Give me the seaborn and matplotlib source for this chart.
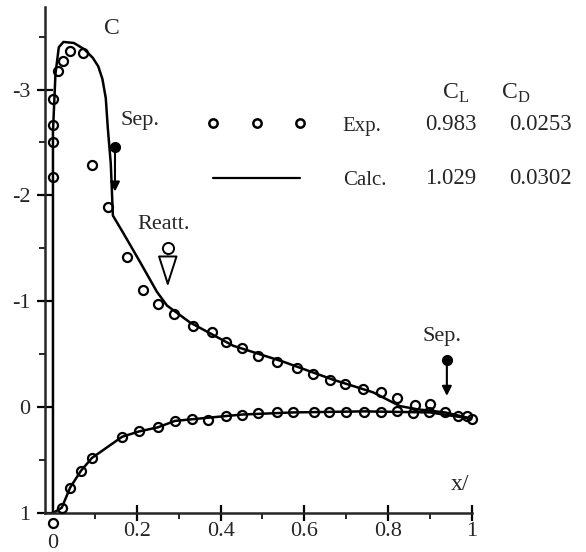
import matplotlib
matplotlib.use("Agg")
import matplotlib.pyplot as plt
import seaborn as sns
from matplotlib.lines import Line2D

# Experimental pressure coefficients (circles)
exp_upper_x = [0.0, 0.0, 0.0, 0.0, 0.012, 0.024, 0.041, 0.072, 0.093, 0.131, 0.177,
               0.215, 0.251, 0.289, 0.334, 0.379, 0.413, 0.451, 0.489, 0.535, 0.582,
               0.621, 0.661, 0.697, 0.740, 0.783, 0.821, 0.864, 0.900, 0.936, 0.967,
               0.988, 1.0]
exp_upper_cp = [-2.17, -2.50, -2.67, -2.91, -3.18, -3.27, -3.36, -3.35, -2.29, -1.89, -1.42,
                -1.11, -0.97, -0.88, -0.77, -0.71, -0.62, -0.56, -0.48, -0.43, -0.37,
                -0.31, -0.26, -0.22, -0.17, -0.14, -0.085, -0.02, -0.03, 0.05, 0.085,
                0.085, 0.11]
exp_lower_x = [0.0, 0.021, 0.041, 0.067, 0.093, 0.165, 0.205, 0.251, 0.291, 0.332, 0.370,
               0.413, 0.451, 0.489, 0.535, 0.573, 0.623, 0.659, 0.699, 0.742, 0.783,
               0.821, 0.859, 0.897]
exp_lower_cp = [1.09, 0.95, 0.76, 0.60, 0.48, 0.28, 0.23, 0.19, 0.13, 0.11, 0.12,
                0.08, 0.07, 0.06, 0.05, 0.05, 0.05, 0.05, 0.05, 0.05, 0.05,
                0.04, 0.06, 0.05]

# Calculated distribution (solid line)
calc_upper_x = [0.0, 0.0, 0.006, 0.014, 0.025, 0.05, 0.075, 0.095, 0.108, 0.118, 0.126,
                0.131, 0.138, 0.143, 0.167, 0.208, 0.248, 0.272, 0.327, 0.43, 0.549,
                0.668, 0.764, 0.828, 0.869, 0.936, 1.0]
calc_upper_cp = [1.0, -2.6, -3.15, -3.40, -3.45, -3.44, -3.38, -3.30, -3.22, -3.10, -2.92,
                 -2.63, -2.30, -1.81, -1.65, -1.37, -1.09, -0.96, -0.80, -0.58, -0.43,
                 -0.26, -0.14, -0.01, 0.02, 0.05, 0.11]
calc_lower_x = [0.0, 0.021, 0.041, 0.067, 0.093, 0.165, 0.205, 0.251, 0.291, 0.37, 0.451,
                0.573, 0.742, 0.90, 1.0]
calc_lower_cp = [1.0, 0.95, 0.76, 0.60, 0.48, 0.28, 0.23, 0.19, 0.13, 0.10, 0.07,
                 0.05, 0.04, 0.05, 0.11]

# Lift / drag table
row_labels = ["Exp.", "Calc."]
cl_values = ["0.983", "1.029"]
cd_values = ["0.0253", "0.0302"]

sns.set_style("ticks")
plt.rcParams["font.family"] = ["Liberation Serif", "DejaVu Serif"]
plt.rcParams["mathtext.fontset"] = "custom"
plt.rcParams["mathtext.rm"] = "Liberation Serif"

fig = plt.figure(figsize=(5.86, 5.52), dpi=100)
ax = fig.add_axes([45 / 586, 1 - 513 / 552, 427 / 586, 506 / 552])

sns.lineplot(x=calc_upper_x, y=calc_upper_cp, sort=False, estimator=None,
             color="black", linewidth=1.8, ax=ax)
sns.lineplot(x=calc_lower_x, y=calc_lower_cp, sort=False, estimator=None,
             color="black", linewidth=1.8, ax=ax)
for xs, ys in [(exp_upper_x, exp_upper_cp), (exp_lower_x, exp_lower_cp)]:
    ax.plot(xs, ys, linestyle="none", marker="o", markersize=6.5,
            markerfacecolor="none", markeredgecolor="black", markeredgewidth=1.6,
            clip_on=False, zorder=3)

ax.set_xlim(-0.019, 1.0)
ax.set_ylim(1.0, -3.78)

ax.spines["top"].set_visible(False)
ax.spines["right"].set_visible(False)
for s in ["left", "bottom"]:
    ax.spines[s].set_linewidth(1.8)

ax.set_xticks([0.2, 0.4, 0.6, 0.8, 1.0])
ax.set_xticklabels(["0.2", "0.4", "0.6", "0.8", "1"])
ax.set_xticks([0.1, 0.3, 0.5, 0.7, 0.9], minor=True)
ax.set_yticks([-3, -2, -1, 0, 1])
ax.set_yticklabels(["-3", "-2", "-1", "0", "1"])
ax.set_yticks([-3.5, -2.5, -1.5, -0.5, 0.5], minor=True)
ax.tick_params(which="major", direction="inout", length=11, width=1.6,
               labelsize=16, color="black")
ax.tick_params(which="minor", direction="out", length=4, width=1.4)
ax.tick_params(axis="y", which="major", pad=5)
ax.tick_params(axis="x", which="major", pad=1)
ax.text(0.0, -0.06, "0", transform=ax.get_xaxis_transform(), ha="center",
        va="center", fontsize=16)

# axis labels as in the scan
ax.text(0.141, -3.58, "C", fontsize=17, ha="center", va="center")
ax.text(0.971, 0.73, "x/", fontsize=17, ha="center", va="center")

# separation / reattachment markers
ax.plot([0.148], [-2.46], marker="o", markersize=7, color="black", clip_on=False)
ax.annotate("", xy=(0.148, -2.01), xytext=(0.148, -2.46),
            arrowprops=dict(arrowstyle="-|>", color="black", lw=1.5, mutation_scale=14))
ax.text(0.208, -2.71, "Sep.", fontsize=16, ha="center", va="center")

ax.plot([0.274], [-1.50], marker="o", markersize=8, markerfacecolor="white",
        markeredgecolor="black", markeredgewidth=1.4)
ax.annotate("", xy=(0.274, -1.11), xytext=(0.274, -1.45),
            arrowprops=dict(arrowstyle="-|>,head_length=1.4,head_width=0.45",
                            facecolor="white", edgecolor="black", lw=1.4,
                            mutation_scale=14))
ax.text(0.265, -1.73, "Reatt.", fontsize=16, ha="center", va="center")

ax.plot([0.940], [-0.45], marker="o", markersize=7, color="black")
ax.annotate("", xy=(0.940, -0.08), xytext=(0.940, -0.45),
            arrowprops=dict(arrowstyle="-|>", color="black", lw=1.5, mutation_scale=14))
ax.text(0.928, -0.67, "Sep.", fontsize=16, ha="center", va="center")

# legend with the lift/drag table
handles = [Line2D([], [], linestyle="none", marker="o", markersize=6,
                  markerfacecolor="none", markeredgecolor="black", markeredgewidth=1.8),
           Line2D([], [], color="black", linewidth=1.6)]
fig.legend(handles, row_labels, loc="upper left", bbox_to_anchor=(207 / 586, 1 - 116 / 552),
           frameon=False, fontsize=15, numpoints=3, handlelength=4.77, handletextpad=1.75,
           labelspacing=1.67, borderpad=0, borderaxespad=0)

fig.text(456 / 586, 1 - 93 / 552, r"C$_{\mathrm{L}}$", fontsize=17, ha="center", va="center")
fig.text(516 / 586, 1 - 93 / 552, r"C$_{\mathrm{D}}$", fontsize=17, ha="center", va="center")
for i, (cl, cd) in enumerate(zip(cl_values, cd_values)):
    yy = 1 - (125 + 53 * i) / 552
    fig.text(451 / 586, yy, cl, fontsize=16.5, ha="center", va="center")
    fig.text(540 / 586, yy, cd, fontsize=16.5, ha="center", va="center")

plt.savefig("out.png", dpi=100)
plt.close()
